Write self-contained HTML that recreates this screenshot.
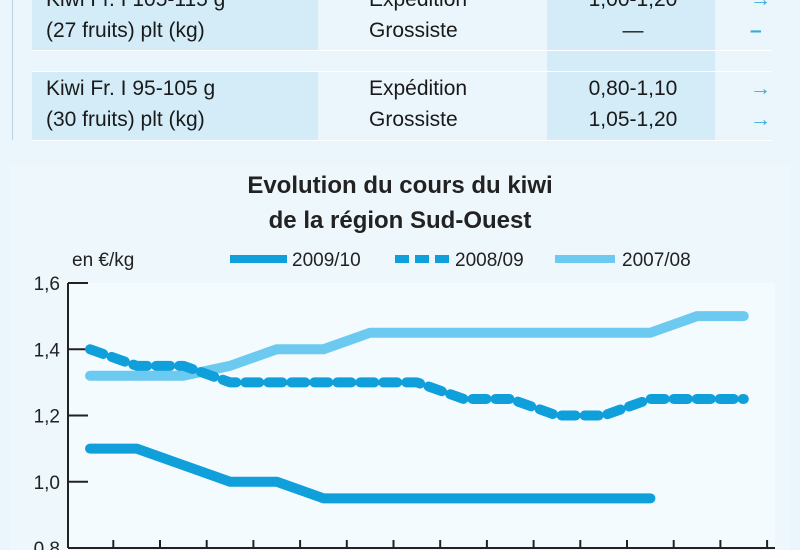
<!DOCTYPE html>
<html><head><meta charset="utf-8"><style>
body{margin:0;width:800px;height:550px;overflow:hidden;background:#eaf6fc;font-family:"Liberation Sans",sans-serif;color:#1a1a1a}
.t{position:absolute;font-size:21px;line-height:31px}
</style></head><body>
<div style="position:absolute;left:0;top:0;width:800px;height:150px">
<div style="position:absolute;left:12px;top:0;width:1px;height:140px;background:#b8d4e2"></div>
<div style="position:absolute;left:32px;top:0;width:286px;height:50px;background:#d3ecf8"></div>
<div style="position:absolute;left:547px;top:0;width:168px;height:140px;background:#d3ecf8"></div>
<div style="position:absolute;left:32px;top:72px;width:286px;height:68px;background:#d3ecf8"></div>
<div style="position:absolute;left:32px;top:50px;width:740px;height:1px;background:#fff"></div>
<div style="position:absolute;left:32px;top:71px;width:740px;height:1px;background:#fff"></div>
<div style="position:absolute;left:32px;top:140px;width:740px;height:1px;background:#fff"></div>
<div class="t" style="left:46px;top:-16px">Kiwi Fr. I 105-115 g<br>(27 fruits) plt (kg)</div>
<div class="t" style="left:369px;top:-16px">Expédition<br>Grossiste</div>
<div class="t" style="left:569px;top:-16px;width:128px;text-align:center">1,00-1,20<br>—</div>
<div class="t" style="left:750px;top:-16px;color:#3aa9e0;font-weight:bold">→<br>–</div>
<div class="t" style="left:46px;top:73px">Kiwi Fr. I 95-105 g<br>(30 fruits) plt (kg)</div>
<div class="t" style="left:369px;top:73px">Expédition<br>Grossiste</div>
<div class="t" style="left:569px;top:73px;width:128px;text-align:center">0,80-1,10<br>1,05-1,20</div>
<div class="t" style="left:750px;top:73px;color:#3aa9e0;font-weight:bold">→<br>→</div>
</div>
<div style="position:absolute;left:10px;top:165px;width:780px;height:385px;background:#eef7fc"></div>
<svg width="800" height="550" style="position:absolute;left:0;top:0">
<text x="400" y="193" text-anchor="middle" font-size="24" font-weight="bold" fill="#222">Evolution du cours du kiwi</text>
<text x="400" y="228" text-anchor="middle" font-size="24" font-weight="bold" fill="#222">de la région Sud-Ouest</text>
<text x="72" y="266" font-size="19" fill="#222">en €/kg</text>
<g>
<line x1="230" y1="259" x2="287" y2="259" stroke="#0fa0dc" stroke-width="8"/>
<text x="292" y="266" font-size="19" fill="#222">2009/10</text>
<line x1="395" y1="259" x2="450" y2="259" stroke="#0fa0dc" stroke-width="8" stroke-dasharray="14,6"/>
<text x="455" y="266" font-size="19" fill="#222">2008/09</text>
<line x1="555" y1="259" x2="615" y2="259" stroke="#6ccaf0" stroke-width="8"/>
<text x="622" y="266" font-size="19" fill="#222">2007/08</text>
</g>
<rect x="68" y="283" width="707" height="265" fill="#f4fbfe"/>
<g id="axes"></g>
<g id="series"></g>
</svg>
<script>
const months=["1","2","3","4","5","6","7","8","9","10","11","12","13","14","15"];
const s2009=[1.10,1.10,1.05,1.00,1.00,0.95,0.95,0.95,0.95,0.95,0.95,0.95,0.95];
const s2008=[1.40,1.35,1.35,1.30,1.30,1.30,1.30,1.30,1.25,1.25,1.20,1.20,1.25,1.25,1.25];
const s2007=[1.32,1.32,1.32,1.35,1.40,1.40,1.45,1.45,1.45,1.45,1.45,1.45,1.45,1.50,1.50];
const yTicks=[0.8,1.0,1.2,1.4,1.6];
const yLabels=["0,8","1,0","1,2","1,4","1,6"];
const NS="http://www.w3.org/2000/svg";
function y(v){return 548-(v-0.8)/0.8*265;}
function x(i){return 90+i*46.7;}
const ax=document.getElementById('axes'),se=document.getElementById('series');
function mk(p,tag,a){const e=document.createElementNS(NS,tag);for(const k in a)e.setAttribute(k,a[k]);p.appendChild(e);return e;}
const yl=mk(ax,'line',{x1:68,y1:283,x2:68,y2:548,stroke:'#222','stroke-width':2});


const xl=mk(ax,'line',{x1:68,y1:548,x2:775,y2:548,stroke:'#222','stroke-width':2});


yTicks.forEach((v,i)=>{
 mk(ax,'line',{x1:68,y1:y(v),x2:88,y2:y(v),stroke:'#222','stroke-width':2});
 const t=mk(ax,'text',{x:60,y:y(v)+7,'text-anchor':'end','font-size':19,fill:'#222'});
 t.textContent=yLabels[i];
 
 
});
months.forEach((m,i)=>{mk(ax,'line',{x1:x(i)+23.3,y1:540,x2:x(i)+23.3,y2:548,stroke:'#222','stroke-width':2});});
function line(d,color,dash,name){
 const p=mk(se,'polyline',{points:d.map((v,i)=>x(i)+','+y(v)).join(' '),fill:'none',stroke:color,'stroke-width':10,'stroke-linejoin':'round','stroke-linecap':'round'});
 if(dash)p.setAttribute('stroke-dasharray',dash);
 
 
}
line(s2007,'#6ccaf0',null,'series-2007-08');
line(s2008,'#0fa0dc','14,9','series-2008-09');
line(s2009,'#0fa0dc',null,'series-2009-10');
</script>
</body></html>
